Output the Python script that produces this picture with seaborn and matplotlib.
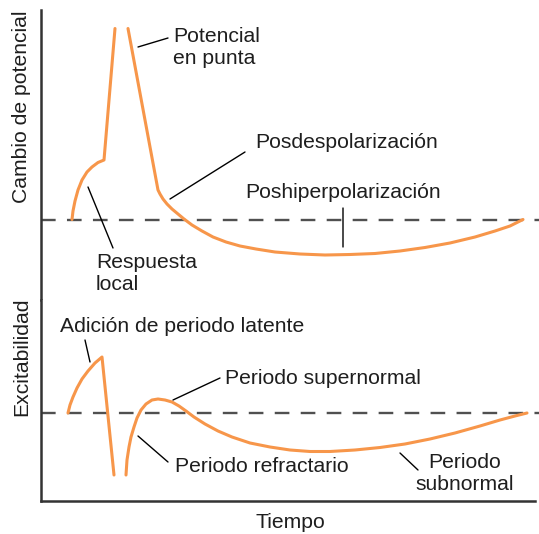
import numpy as np
import pandas as pd
import seaborn as sns
import matplotlib.pyplot as plt

# Curve data (time in arbitrary units, value relative to resting baseline)
# Top: change of membrane potential
local_t = [31, 32, 34, 37, 41, 46, 51, 57, 63, 74]
local_v = [0, 8.5, 18.5, 29.5, 39.5, 47.5, 52.5, 57, 59.5, 191]
fall_t = [87, 117, 119, 122, 126, 131, 137, 143, 151, 161, 172, 185, 199, 215, 234,
          259, 284, 309, 334, 359, 384, 409, 434, 454, 469, 482]
fall_v = [191, 29.5, 25.5, 20.5, 15.5, 10.5, 5.5, 0.5, -5.5, -11.5, -17.5, -22.5, -26.5,
          -29.5, -32.5, -34.5, -35.5, -35, -34, -31.5, -28, -23.5, -17.5, -11.5, -6.5, 0]

# Bottom: excitability
latent_t = [27, 29, 32, 36, 41, 47, 54, 61, 73]
latent_v = [0, 8, 16, 25, 34, 42, 50, 56, -62]
recov_t = [85, 86, 88, 90, 93, 96, 100, 105, 111, 117, 124, 131, 138, 145, 153, 164, 177,
           191, 209, 229, 249, 269, 289, 314, 339, 364, 389, 414, 439, 459, 474, 486]
recov_v = [-62, -47, -34, -24, -14, -5, 3, 9, 13, 14, 13, 11, 7, 2, -4, -11, -18,
           -24, -30, -34, -37, -38.5, -38.5, -37, -34.5, -31, -26, -20, -13, -7, -3, 0]

top = pd.concat([
    pd.DataFrame({'t': local_t, 'v': local_v, 'seg': 'subida'}),
    pd.DataFrame({'t': fall_t, 'v': fall_v, 'seg': 'bajada'}),
])
bottom = pd.concat([
    pd.DataFrame({'t': latent_t, 'v': latent_v, 'seg': 'latente'}),
    pd.DataFrame({'t': recov_t, 'v': recov_v, 'seg': 'recuperacion'}),
])

sns.set_style('white')
plt.rcParams['font.family'] = ['Liberation Sans', 'DejaVu Sans']
plt.rcParams['text.color'] = '#1e1e1e'

orange = '#F7964A'
fs = 15.2

fig, (ax1, ax2) = plt.subplots(
    2, 1, figsize=(5.39, 5.34), dpi=100, sharex=True,
    gridspec_kw={'height_ratios': [290, 201], 'hspace': 0}
)
fig.subplots_adjust(left=41 / 539, right=535 / 539, top=1 - 10 / 534, bottom=1 - 501 / 534)

for ax, df in [(ax1, top), (ax2, bottom)]:
    ax.axhline(0, color='#505050', lw=1.7, dashes=(6.2, 4.8), xmax=1.01, clip_on=False)
    sns.lineplot(data=df, x='t', y='v', units='seg', estimator=None, sort=False,
                 color=orange, lw=2.2, ax=ax, legend=False)
    ax.set_xlabel('')
    ax.set_ylabel('')
    ax.set_xticks([])
    ax.set_yticks([])
    for s in ['top', 'right', 'bottom', 'left']:
        ax.spines[s].set_visible(False)
    ax.spines['left'].set_visible(True)
    ax.spines['left'].set_color('#333333')
    ax.spines['left'].set_linewidth(1.8)

ax2.spines['bottom'].set_visible(True)
ax2.spines['bottom'].set_color('#333333')
ax2.spines['bottom'].set_linewidth(1.8)

ax1.set_xlim(0, 494)
ax1.set_ylim(-80.5, 209.5)
ax2.set_ylim(-88, 113)


def leader(ax, p0, p1):
    ax.annotate('', xy=p0, xytext=p1,
                arrowprops=dict(arrowstyle='-', color='black', lw=1.0,
                                shrinkA=0, shrinkB=0))


# top annotations
leader(ax1, (97, 172.5), (127, 181.5))
ax1.text(132, 171.5, 'Potencial\nen punta', fontsize=fs, ha='left', va='center')
leader(ax1, (129, 20.5), (204, 67.5))
ax1.text(214, 77.5, 'Posdespolarización', fontsize=fs, ha='left', va='center')
leader(ax1, (302, 11.5), (302, -27.5))
ax1.text(204, 27.5, 'Poshiperpolarización', fontsize=fs, ha='left', va='center')
leader(ax1, (47, 32.5), (72, -28.5))
ax1.text(55, -53.5, 'Respuesta\nlocal', fontsize=fs, ha='left', va='center')

# bottom annotations
leader(ax2, (44, 73), (49, 51))
ax2.text(19, 87, 'Adición de periodo latente', fontsize=fs, ha='left', va='center')
leader(ax2, (132, 13), (179, 35))
ax2.text(184, 35, 'Periodo supernormal', fontsize=fs, ha='left', va='center')
leader(ax2, (97, -23), (127, -49))
ax2.text(134, -54, 'Periodo refractario', fontsize=fs, ha='left', va='center')
leader(ax2, (359, -40), (377, -57))
ax2.text(424, -61, 'Periodo\nsubnormal', fontsize=fs, ha='center', va='center',
         multialignment='center')

# axis labels
ax1.text(-0.0385, (300 - 107) / 290, 'Cambio de potencial', transform=ax1.transAxes,
         rotation=90, fontsize=fs, ha='center', va='center')
ax2.text(-0.0385, (501 - 357) / 201, 'Excitabilidad', transform=ax2.transAxes,
         rotation=90, fontsize=fs, ha='center', va='center')
ax2.text(249, -110, 'Tiempo', fontsize=fs, ha='center', va='center', clip_on=False)

plt.savefig('out.png', dpi=100)
